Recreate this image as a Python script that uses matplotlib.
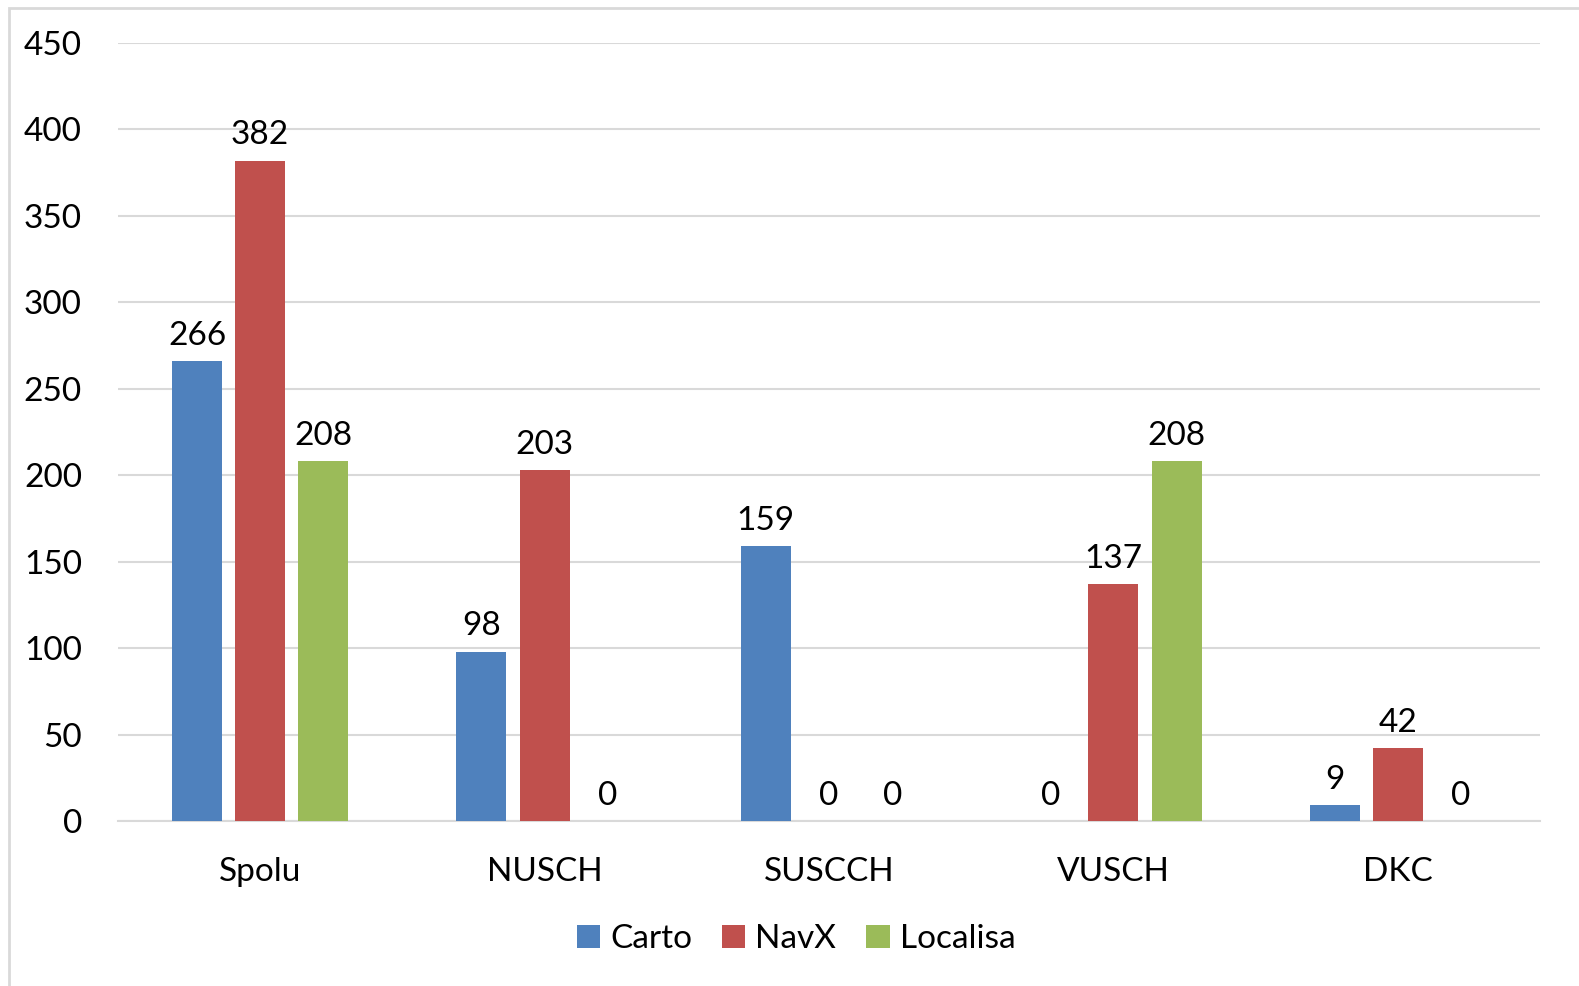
import numpy as np
import matplotlib
matplotlib.use("Agg")
import matplotlib.pyplot as plt
from matplotlib.patches import Rectangle

plt.rcParams['font.family'] = ['Lato', 'DejaVu Sans']

categories = ['Spolu', 'NUSCH', 'SUSCCH', 'VUSCH', 'DKC']
carto = [266, 98, 159, 0, 9]
navx = [382, 203, 0, 137, 42]
localisa = [208, 0, 0, 208, 0]

series = [('Carto', carto, '#4F81BD'),
          ('NavX', navx, '#C0504D'),
          ('Localisa', localisa, '#9BBB59')]

W, H = 1579, 986
fig = plt.figure(figsize=(W / 100, H / 100), dpi=100)
ax = fig.add_axes([118 / W, 1 - 821 / H, (1540 - 118) / W, (821 - 43) / H])

# light frame around the chart
fig.patches.append(Rectangle((9 / W, -0.1), 1.2, 1.1 - 8 / H, transform=fig.transFigure,
                             fill=False, edgecolor='#D9D9D9', linewidth=2))

fs = 24
x = np.arange(len(categories))
width = 0.176
step = 0.222
for i, (name, vals, color) in enumerate(series):
    pos = x + (i - 1) * step
    ax.bar(pos, vals, width, color=color, label=name, zorder=3)
    for p, v in zip(pos, vals):
        ax.text(p, v + 6, str(v), ha='center', va='bottom', fontsize=fs, color='black')

ax.set_xlim(-0.5, len(categories) - 0.5)
ax.set_ylim(0, 450)
ax.set_yticks(range(0, 451, 50))
ax.set_xticks(x)
ax.set_xticklabels(categories)
ax.tick_params(axis='both', length=0, labelsize=fs, colors='black')
ax.tick_params(axis='y', pad=26)
ax.tick_params(axis='x', pad=26)
ax.grid(axis='y', color='#D9D9D9', linewidth=1.5, zorder=0)
for s in ['top', 'right', 'left']:
    ax.spines[s].set_visible(False)
ax.spines['bottom'].set_color('#D9D9D9')
ax.spines['bottom'].set_linewidth(1.5)

fig.legend(loc='center', bbox_to_anchor=(796 / W, 1 - 939 / H), ncol=3, frameon=False,
           fontsize=fs, handlelength=0.7, handleheight=0.7, handletextpad=0.3, columnspacing=0.9)

fig.savefig('out.png', dpi=100)
